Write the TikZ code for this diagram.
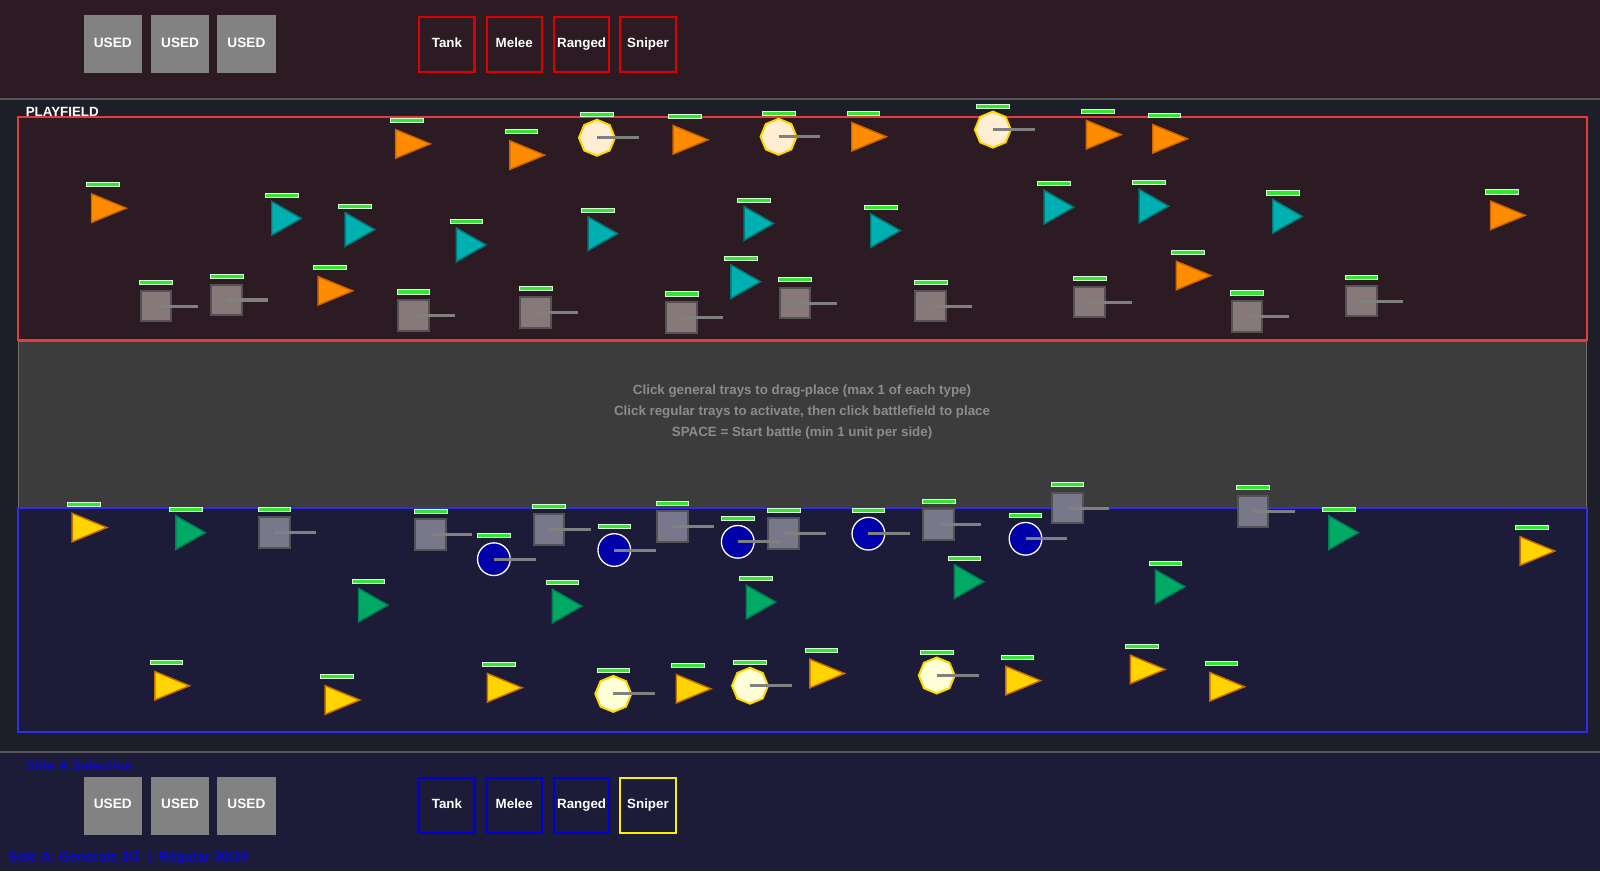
\documentclass[tikz,border=0pt]{standalone}
\usepackage{fontspec}
\setmainfont{Liberation Sans}
\usetikzlibrary{positioning,shapes.geometric}

\definecolor{redbg}{RGB}{45,27,36}
\definecolor{midbg}{RGB}{30,30,40}
\definecolor{bluebg}{RGB}{28,27,56}
\definecolor{zonegray}{RGB}{60,60,60}
\definecolor{zoneedge}{RGB}{110,110,110}
\definecolor{sepgray}{RGB}{85,85,90}
\definecolor{redline}{RGB}{228,60,60}
\definecolor{blueline}{RGB}{45,45,235}
\definecolor{trayred}{RGB}{220,0,0}
\definecolor{trayblue}{RGB}{0,0,220}
\definecolor{trayyellow}{RGB}{250,240,0}
\definecolor{usedgray}{RGB}{130,130,130}
\definecolor{hpgreen}{RGB}{50,230,50}
\definecolor{hpedge}{RGB}{215,250,215}
\definecolor{guncol}{RGB}{128,128,128}
\definecolor{orangeu}{RGB}{255,140,0}
\definecolor{orangeedge}{RGB}{205,100,0}
\definecolor{tealu}{RGB}{0,175,175}
\definecolor{tealedge}{RGB}{0,120,120}
\definecolor{greenu}{RGB}{0,170,100}
\definecolor{greenedge}{RGB}{0,125,85}
\definecolor{yellowu}{RGB}{255,212,0}
\definecolor{yellowedge}{RGB}{200,110,0}
\definecolor{tankred}{RGB}{135,120,122}
\definecolor{tankblue}{RGB}{120,120,138}
\definecolor{tankedge}{RGB}{85,82,85}
\definecolor{circblue}{RGB}{0,0,170}
\definecolor{creamu}{RGB}{255,238,210}
\definecolor{paleu}{RGB}{255,255,215}
\definecolor{goldedge}{RGB}{255,215,0}
\definecolor{hintgray}{RGB}{140,140,140}
\definecolor{sidetext}{RGB}{10,10,210}

\tikzset{
  tray/.style={draw, line width=1.4pt, minimum width=1.35cm, minimum height=1.35cm,
    text=white, font=\bfseries\fontsize{9.3}{11}\selectfont, inner sep=0pt,
    text height=6.7pt, text depth=2.8pt},
  usedtray/.style={fill=usedgray, minimum width=1.425cm, minimum height=1.425cm,
    text=white, font=\bfseries\fontsize{9.5}{11}\selectfont, inner sep=0pt,
    text height=6.8pt, text depth=2.8pt},
  hint/.style={text=hintgray, font=\bfseries\fontsize{9.3}{11}\selectfont, inner sep=0pt},
  sidelabel/.style={text=sidetext, font=\bfseries\fontsize{9.5}{11}\selectfont,
    inner sep=0pt, anchor=west},
  hpbar/.style={fill=hpgreen, draw=hpedge, line width=0.5pt},
  gun/.style={draw=guncol, line width=2.1pt},
  tankbox/.style={draw=tankedge, line width=1.4pt, minimum size=0.75cm, inner sep=0pt},
  ranger/.style={circle, draw=white, fill=circblue, line width=0.9pt,
    minimum size=0.8cm, inner sep=0pt},
  general/.style={regular polygon, regular polygon sides=8, shape border rotate=22.5,
    draw=goldedge, line width=1.4pt, minimum size=0.88cm, inner sep=0pt},
  wedge/.style={line width=1pt, line join=miter}
}

\begin{document}
\begin{tikzpicture}[x=0.025cm, y=-0.025cm]
\useasboundingbox (0,0) rectangle (1568,853.6);

% backgrounds
\fill[redbg] (0,0) rectangle (1568,97);
\fill[midbg] (0,97) rectangle (1568,737);
\fill[bluebg] (0,737) rectangle (1568,853.6);
\draw[sepgray, line width=1.4pt] (0,97) -- (1568,97);
\draw[sepgray, line width=1.4pt] (0,737) -- (1568,737);

% fields
\filldraw[fill=redbg, draw=redline, line width=1.4pt] (18,115) rectangle (1555,333);
\filldraw[fill=zonegray, draw=zoneedge, line width=0.8pt] (18,335) rectangle (1555,497);
\filldraw[fill=bluebg, draw=blueline, line width=1.4pt] (18,498) rectangle (1555,717);
\node[anchor=west, text=white, font=\bfseries\fontsize{9.3}{10}\selectfont, inner sep=0pt]
  (playfield) at (25,110) {PLAYFIELD};

\node[hint] (hint1) at (786,383) {Click general trays to drag-place (max 1 of each type)};
\node[hint] (hint2) at (786,404) {Click regular trays to activate, then click battlefield to place};
\node[hint] (hint3) at (786,424) {SPACE = Start battle (min 1 unit per side)};

% trays, side B (top)
\foreach \x [count=\i] in {110.5,176.5,241.5}
  \node[usedtray] (bused\i) at (\x,43.5) {USED};
\foreach \x/\t [count=\i] in {438/Tank,504/Melee,570/Ranged,635/Sniper}
  \node[tray, draw=trayred] (btype\i) at (\x,43.5) {\t};

% trays, side A (bottom)
\foreach \x [count=\i] in {110.5,176.5,241.5}
  \node[usedtray] (aused\i) at (\x,789.5) {USED};
\foreach \x/\t [count=\i] in {438/Tank,504/Melee,570/Ranged}
  \node[tray, draw=trayblue] (atype\i) at (\x,789.5) {\t};
\node[tray, draw=trayyellow] (atype4) at (635,789.5) {Sniper};
\node[sidelabel] (asel) at (25,750) {Side A Selection};
\node[sidelabel] (astat) at (8,840.5) {Side A: Generals 3/3 \ | \ Regular 30/30};

% red units
\foreach \x/\y in {101/204,399/141,511/152,671/137,846/134,1076/132,1141/136,323/285,1164/270,1472/211}{
  \filldraw[wedge, fill=orangeu, draw=orangeedge] (\x-11.3,\y-14) -- (\x+22.7,\y) -- (\x-11.3,\y+14) -- cycle;
  \draw[hpbar] (\x-16,\y-25) rectangle (\x+16,\y-21);
}
\foreach \x/\y in {276/214,348/225,457/240,586/229,739/219,863/226,1033/203,1126/202,1257/212,726/276}{
  \filldraw[wedge, fill=tealu, draw=tealedge] (\x-9.7,\y-16.5) -- (\x+19.3,\y) -- (\x-9.7,\y+16.5) -- cycle;
  \draw[hpbar] (\x-16,\y-25) rectangle (\x+16,\y-21);
}
\foreach \x/\y [count=\i] in {153/300,222/294,405/309,525/306,668/311,779/297,912/300,1068/296,1222/310,1334/295}{
  \node[tankbox, fill=tankred] (rtank\i) at (\x,\y) {};
  \draw[gun] (rtank\i.center) -- ++(41,0);
  \draw[hpbar] (\x-16,\y-25) rectangle (\x+16,\y-21);
}
\foreach \x/\y [count=\i] in {585/135,763/134,973/127}{
  \node[general, fill=creamu] (rgen\i) at (\x,\y) {};
  \draw[gun] (rgen\i.center) -- ++(41,0);
  \draw[hpbar] (\x-16,\y-25) rectangle (\x+16,\y-21);
}

% blue units
\foreach \x/\y in {82/517,163/672,330/686,489/674,674/675,805/660,997/667,1119/656,1197/673,1501/540}{
  \filldraw[wedge, fill=yellowu, draw=yellowedge] (\x-11.3,\y-14) -- (\x+22.7,\y) -- (\x-11.3,\y+14) -- cycle;
  \draw[hpbar] (\x-16,\y-25) rectangle (\x+16,\y-21);
}
\foreach \x/\y in {182/522,361/593,551/594,741/590,945/570,1142/575,1312/522}{
  \filldraw[wedge, fill=greenu, draw=greenedge] (\x-9.7,\y-16.5) -- (\x+19.3,\y) -- (\x-9.7,\y+16.5) -- cycle;
  \draw[hpbar] (\x-16,\y-25) rectangle (\x+16,\y-21);
}
\foreach \x/\y [count=\i] in {269/522,422/524,538/519,659/516,768/523,920/514,1046/498,1228/501}{
  \node[tankbox, fill=tankblue] (btank\i) at (\x,\y) {};
  \draw[gun] (btank\i.center) -- ++(41,0);
  \draw[hpbar] (\x-16,\y-25) rectangle (\x+16,\y-21);
}
\foreach \x/\y [count=\i] in {484/548,602/539,723/531,851/523,1005/528}{
  \node[ranger] (bshot\i) at (\x,\y) {};
  \draw[gun] (bshot\i.center) -- ++(41,0);
  \draw[hpbar] (\x-16,\y-25) rectangle (\x+16,\y-21);
}
\foreach \x/\y [count=\i] in {601/680,735/672,918/662}{
  \node[general, fill=paleu] (bgen\i) at (\x,\y) {};
  \draw[gun] (bgen\i.center) -- ++(41,0);
  \draw[hpbar] (\x-16,\y-25) rectangle (\x+16,\y-21);
}
\end{tikzpicture}
\end{document}
